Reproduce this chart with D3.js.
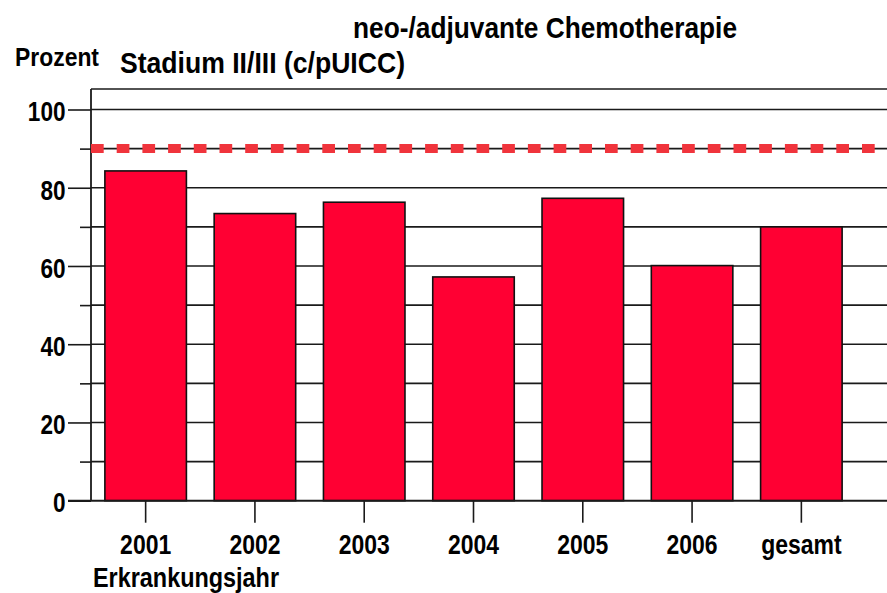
<!DOCTYPE html>
<html>
<head>
<meta charset="utf-8">
<script src="https://cdn.jsdelivr.net/npm/d3@7"></script>
<style>
  html, body { margin: 0; padding: 0; background: #fff; }
  svg text { font-family: "Liberation Sans Narrow", "Arial Narrow", "Liberation Sans", Arial, sans-serif; font-weight: bold; fill: #000; }
</style>
</head>
<body>
<svg id="chart" width="887" height="593"></svg>
<script>
const categories = ["2001", "2002", "2003", "2004", "2005", "2006", "gesamt"];
const values = [84.3, 73.4, 76.3, 57.2, 77.3, 60.1, 70.0];
const targetValue = 90;
const yTickValues = [0, 20, 40, 60, 80, 100];
const yMinorValues = [10, 30, 50, 70, 90];
const titleText = "neo-/adjuvante Chemotherapie";
const subtitleText = "Stadium II/III (c/pUICC)";
const yLabelText = "Prozent";
const xLabelText = "Erkrankungsjahr";

(function () {
const svg = d3.select("#chart");
const pLeft = 91, pRight = 887, bandEnd = 856, pTop = 89, pBottom = 500.7;
const narrow = 0.82;

function condense(sel, factor) {
  sel.each(function () {
    const n = this.getComputedTextLength();
    d3.select(this).attr("textLength", n * factor).attr("lengthAdjust", "spacingAndGlyphs");
  });
}

const x = d3.scaleBand().domain(categories).range([pLeft, bandEnd]).paddingInner(0.254).paddingOuter(0.127);
const y = d3.scaleLinear().domain([0, 100]).range([pBottom, 109.5]);

const lineColor = "#1a1a1a";

// gridlines every 10
const gridVals = d3.range(10, 101, 10);
svg.append("g").selectAll("line").data(gridVals).join("line")
  .attr("x1", pLeft).attr("x2", pRight)
  .attr("y1", d => y(d)).attr("y2", d => y(d))
  .attr("stroke", lineColor).attr("stroke-width", 1.6);

// top frame
svg.append("line").attr("x1", pLeft).attr("x2", pRight).attr("y1", pTop).attr("y2", pTop)
  .attr("stroke", lineColor).attr("stroke-width", 1.6);

// y axis (major ticks outward)
const yAxis = d3.axisLeft(y).tickValues(yTickValues).tickSize(23).tickPadding(2.5).tickFormat(d3.format("d"));
const gy = svg.append("g").attr("transform", `translate(${pLeft},0)`).call(yAxis);
gy.select(".domain").remove();
gy.selectAll(".tick line").attr("stroke", lineColor).attr("stroke-width", 1.6);
gy.selectAll(".tick text").attr("font-size", 27.5).attr("dy", "0.41em").attr("fill", "#000")
  .call(condense, narrow);

// minor ticks
const yMinorAxis = d3.axisLeft(y).tickValues(yMinorValues).tickSize(11).tickFormat("");
const gym = svg.append("g").attr("transform", `translate(${pLeft},0)`).call(yMinorAxis);
gym.select(".domain").remove();
gym.selectAll(".tick line").attr("stroke", lineColor).attr("stroke-width", 1.6);

// bars
svg.append("g").selectAll("rect").data(values).join("rect")
  .attr("x", (d, i) => x(categories[i]))
  .attr("width", x.bandwidth())
  .attr("y", d => y(d))
  .attr("height", d => y(0) - y(d))
  .attr("fill", "#ff0033")
  .attr("stroke", "#111").attr("stroke-width", 1.6);

// left axis line
svg.append("line").attr("x1", pLeft).attr("x2", pLeft).attr("y1", pTop).attr("y2", pBottom)
  .attr("stroke", lineColor).attr("stroke-width", 1.8);

// bottom axis
svg.append("line").attr("x1", 68).attr("x2", pRight).attr("y1", pBottom).attr("y2", pBottom)
  .attr("stroke", lineColor).attr("stroke-width", 2);

const xAxis = d3.axisBottom(x).tickSize(22).tickPadding(11);
const gx = svg.append("g").attr("transform", `translate(0,${pBottom})`).call(xAxis);
gx.select(".domain").remove();
gx.selectAll(".tick line").attr("stroke", lineColor).attr("stroke-width", 1.6);
gx.selectAll(".tick text").attr("font-size", 28).attr("dy", "0.71em").attr("fill", "#000")
  .call(condense, narrow);

// target dashed line
svg.append("line").attr("x1", pLeft).attr("x2", pRight)
  .attr("y1", y(targetValue)).attr("y2", y(targetValue))
  .attr("stroke", "#f0343c").attr("stroke-width", 9)
  .attr("stroke-dasharray", "12.7 13");

// titles
svg.append("text").attr("x", 353).attr("y", 38).attr("font-size", 29.5)
  .attr("textLength", 384).attr("lengthAdjust", "spacingAndGlyphs").text(titleText);
svg.append("text").attr("x", 120).attr("y", 73).attr("font-size", 29.5)
  .attr("textLength", 285).attr("lengthAdjust", "spacingAndGlyphs").text(subtitleText);
svg.append("text").attr("x", 15).attr("y", 65.5).attr("font-size", 26)
  .attr("textLength", 84).attr("lengthAdjust", "spacingAndGlyphs").text(yLabelText);
svg.append("text").attr("x", 93).attr("y", 586.5).attr("font-size", 28)
  .attr("textLength", 186).attr("lengthAdjust", "spacingAndGlyphs").text(xLabelText);
})();
</script>
</body>
</html>
